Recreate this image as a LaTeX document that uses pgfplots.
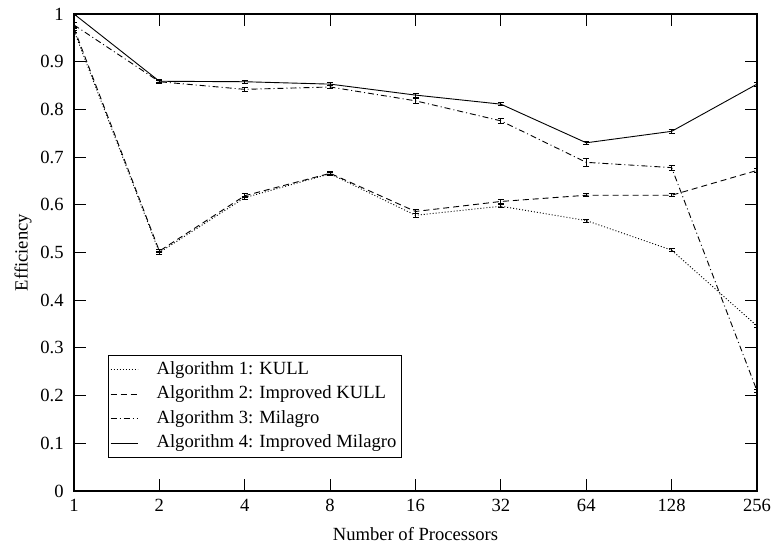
\documentclass[border=0pt]{standalone}
\usepackage{fontspec}
\setmainfont{Liberation Serif}
\usepackage{pgfplots}
\usepackage{pgfplotstable}
\pgfplotsset{compat=1.18}

\pgfplotstableread{
x y e
0 0.965 0.004
1 0.500 0.003
2 0.615 0.003
3 0.665 0.003
4 0.578 0.004
5 0.597 0.003
6 0.567 0.003
7 0.505 0.003
8 0.346 0.003
}\algA
\pgfplotstableread{
x y e
0 0.970 0.004
1 0.503 0.003
2 0.619 0.004
3 0.666 0.003
4 0.586 0.004
5 0.607 0.004
6 0.620 0.003
7 0.620 0.003
8 0.672 0.004
}\algB
\pgfplotstableread{
x y e
0 0.977 0.006
1 0.858 0.003
2 0.842 0.004
3 0.847 0.004
4 0.818 0.005
5 0.776 0.006
6 0.689 0.008
7 0.678 0.005
8 0.210 0.003
}\algC
\pgfplotstableread{
x y e
0 1.000 0.002
1 0.859 0.003
2 0.858 0.003
3 0.853 0.003
4 0.830 0.004
5 0.811 0.003
6 0.730 0.003
7 0.754 0.004
8 0.853 0.004
}\algD

\begin{document}
\fontsize{18.6}{22}\selectfont
\begin{tikzpicture}
\begin{axis}[
  name=ax,
  scale only axis,
  width=683pt, height=477pt,
  xmin=0, xmax=8, ymin=0, ymax=1,
  xtick={0,1,2,3,4,5,6,7,8},
  xticklabels={1,2,4,8,16,32,64,128,256},
  ytick={0,0.1,0.2,0.3,0.4,0.5,0.6,0.7,0.8,0.9,1},
  yticklabels={0,0.1,0.2,0.3,0.4,0.5,0.6,0.7,0.8,0.9,1},
  tick align=inside,
  major tick length=12pt,
  axis line style={line width=1.3pt},
  every tick/.style={black, line width=0.9pt},
  tick label style={font=\fontsize{18.6}{22}\selectfont},
  xticklabel style={yshift=-2pt},
  yticklabel style={xshift=-4pt},
  label style={font=\fontsize{18.6}{22}\selectfont},
  xlabel={Number of Processors},
  ylabel={Efficiency},
  xlabel style={yshift=-3pt},
  ylabel style={yshift=-4pt},
  legend cell align=left,
  legend image code/.code={\draw[#1] (0pt,0pt) -- (27pt,0pt); \path[draw=none] (0pt,0pt) -- (43pt,0pt);},
  legend style={
    at={(rel axis cs:0.0493,0.069)}, anchor=south west,
    draw=black, line width=1pt, inner sep=2pt,
    font=\fontsize{18.6}{22}\selectfont,
    row sep=0pt,
    nodes={inner sep=3pt, text height=13.5pt, text depth=5pt},
  },
  error bars/error bar style={line width=0.8pt, solid, black},
  error bars/error mark options={rotate=90, mark size=3pt, line width=0.8pt, solid, black},
]
\addplot[black, line width=0.9pt, no markers, dash pattern=on 1pt off 2pt,
  error bars/.cd, y dir=both, y explicit]
  table[x=x, y=y, y error=e] {\algA};
\addlegendentry{Algorithm 1: KULL}
\addplot[black, line width=0.9pt, no markers, dash pattern=on 6pt off 4pt,
  error bars/.cd, y dir=both, y explicit]
  table[x=x, y=y, y error=e] {\algB};
\addlegendentry{Algorithm 2: Improved KULL}
\addplot[black, line width=0.9pt, no markers, dash pattern=on 6pt off 3pt on 1pt off 3pt,
  error bars/.cd, y dir=both, y explicit]
  table[x=x, y=y, y error=e] {\algC};
\addlegendentry{Algorithm 3: Milagro}
\addplot[black, line width=0.9pt, no markers, solid,
  error bars/.cd, y dir=both, y explicit]
  table[x=x, y=y, y error=e] {\algD};
\addlegendentry{Algorithm 4: Improved Milagro}
\end{axis}
\pgfresetboundingbox
\path ([shift={(-74pt,-55pt)}]ax.south west) rectangle ([shift={(16pt,14pt)}]ax.north east);
\end{tikzpicture}
\end{document}
